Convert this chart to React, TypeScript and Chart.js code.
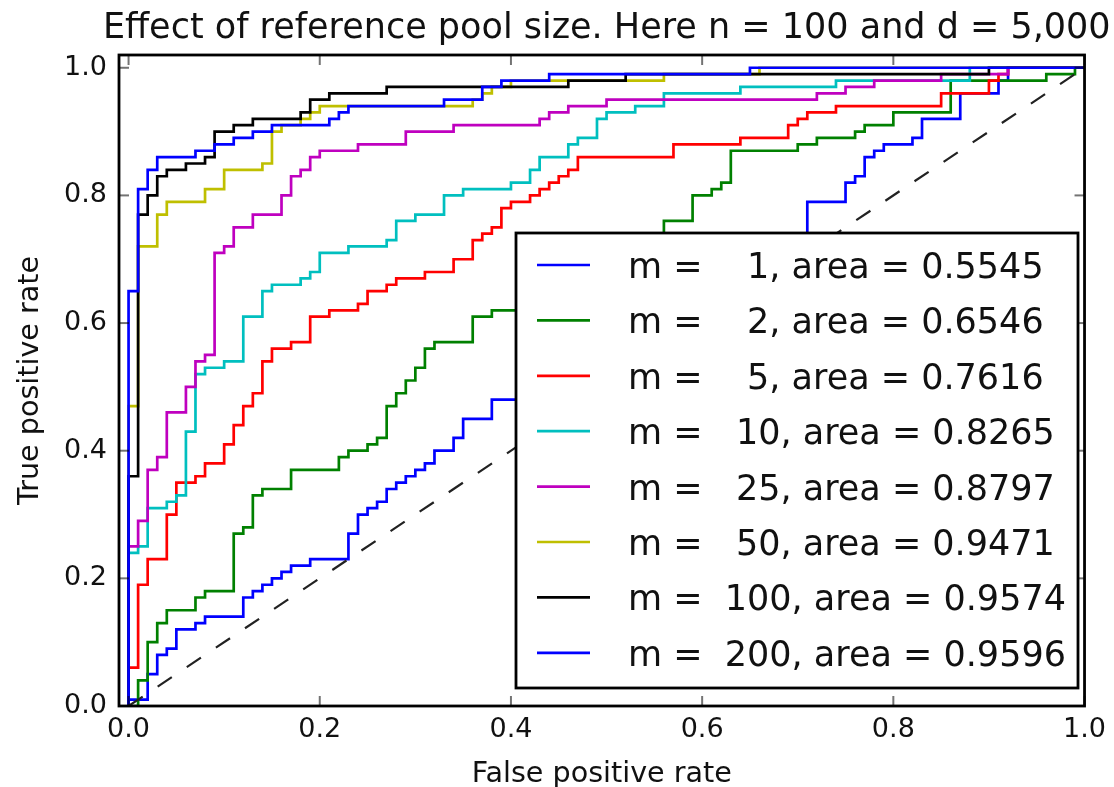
import React, { useEffect, useRef } from 'react';
import { Chart, registerables } from 'chart.js';

Chart.register(...registerables);

// ---- data ----
const titleText = 'Effect of reference pool size. Here n = 100 and d = 5,000';
const xLabelText = 'False positive rate';
const yLabelText = 'True positive rate';

const poolSizes = [1, 2, 5, 10, 25, 50, 100, 200];
const areas = [0.5545, 0.6546, 0.7616, 0.8265, 0.8797, 0.9471, 0.9574, 0.9596];
const seriesColors = ['#0000ff', '#008000', '#ff0000', '#00bfbf', '#bf00bf', '#bfbf00', '#000000', '#0000ff'];

const xTicks = [0, 0.2, 0.4, 0.6, 0.8, 1.0];
const yTicks = [0, 0.2, 0.4, 0.6, 0.8, 1.0];

const diagFpr = [0, 1];
const diagTpr = [0, 1];

const fprM1 = [0, 0, 0.02, 0.03, 0.04, 0.05, 0.07, 0.08, 0.12, 0.13, 0.14, 0.15, 0.16, 0.17, 0.19, 0.23, 0.24, 0.25, 0.26, 0.27, 0.28, 0.29, 0.30, 0.31, 0.32, 0.34, 0.35, 0.38, 0.42, 0.46, 0.50, 0.54, 0.58, 0.62, 0.66, 0.71, 0.75, 0.76, 0.77, 0.78, 0.79, 0.82, 0.83, 0.87, 0.91, 0.92, 1.0];
const tprM1 = [0, 0.01, 0.05, 0.08, 0.09, 0.12, 0.13, 0.14, 0.17, 0.18, 0.19, 0.20, 0.21, 0.22, 0.23, 0.27, 0.30, 0.31, 0.32, 0.34, 0.35, 0.36, 0.37, 0.38, 0.40, 0.42, 0.45, 0.48, 0.50, 0.53, 0.56, 0.59, 0.62, 0.65, 0.69, 0.79, 0.82, 0.83, 0.86, 0.87, 0.88, 0.89, 0.92, 0.96, 0.98, 1.0, 1.0];

const fprM2 = [0, 0.01, 0.02, 0.03, 0.04, 0.07, 0.08, 0.11, 0.12, 0.13, 0.14, 0.17, 0.22, 0.23, 0.25, 0.26, 0.27, 0.28, 0.29, 0.30, 0.31, 0.32, 0.36, 0.38, 0.41, 0.44, 0.47, 0.50, 0.52, 0.54, 0.56, 0.59, 0.61, 0.62, 0.63, 0.70, 0.72, 0.76, 0.77, 0.80, 0.86, 0.96, 0.99, 1.0];
const tprM2 = [0, 0.04, 0.10, 0.13, 0.15, 0.17, 0.18, 0.27, 0.28, 0.33, 0.34, 0.37, 0.39, 0.40, 0.41, 0.42, 0.47, 0.49, 0.51, 0.53, 0.56, 0.57, 0.61, 0.62, 0.63, 0.65, 0.66, 0.68, 0.70, 0.72, 0.76, 0.80, 0.81, 0.82, 0.87, 0.88, 0.89, 0.90, 0.91, 0.93, 0.98, 0.99, 1.0, 1.0];

const fprM5 = [0, 0, 0.01, 0.02, 0.04, 0.05, 0.07, 0.08, 0.10, 0.11, 0.12, 0.13, 0.14, 0.15, 0.17, 0.19, 0.21, 0.24, 0.25, 0.27, 0.28, 0.31, 0.34, 0.36, 0.37, 0.38, 0.39, 0.40, 0.42, 0.43, 0.44, 0.45, 0.46, 0.47, 0.57, 0.64, 0.69, 0.70, 0.71, 0.74, 0.85, 0.90, 0.91, 0.92, 1.0];
const tprM5 = [0, 0.06, 0.19, 0.23, 0.30, 0.35, 0.36, 0.38, 0.41, 0.44, 0.47, 0.49, 0.54, 0.56, 0.57, 0.61, 0.62, 0.63, 0.65, 0.66, 0.67, 0.68, 0.70, 0.73, 0.74, 0.75, 0.78, 0.79, 0.80, 0.81, 0.82, 0.83, 0.84, 0.86, 0.88, 0.89, 0.91, 0.92, 0.93, 0.94, 0.96, 0.98, 0.99, 1.0, 1.0];

const fprM10 = [0, 0, 0.01, 0.02, 0.04, 0.05, 0.06, 0.07, 0.08, 0.10, 0.12, 0.14, 0.15, 0.18, 0.19, 0.20, 0.23, 0.27, 0.28, 0.30, 0.33, 0.35, 0.40, 0.42, 0.43, 0.46, 0.47, 0.49, 0.50, 0.53, 0.56, 0.64, 0.74, 0.88, 1.0];
const tprM10 = [0, 0.24, 0.25, 0.31, 0.32, 0.33, 0.43, 0.52, 0.53, 0.54, 0.61, 0.65, 0.66, 0.67, 0.68, 0.71, 0.72, 0.73, 0.76, 0.77, 0.80, 0.81, 0.82, 0.84, 0.86, 0.88, 0.89, 0.92, 0.93, 0.94, 0.96, 0.97, 0.98, 1.0, 1.0];

const fprM25 = [0, 0, 0.01, 0.02, 0.03, 0.04, 0.06, 0.07, 0.08, 0.09, 0.10, 0.11, 0.13, 0.16, 0.17, 0.18, 0.19, 0.20, 0.24, 0.29, 0.34, 0.43, 0.44, 0.46, 0.50, 0.72, 0.75, 0.78, 0.85, 0.92, 1.0];
const tprM25 = [0, 0.25, 0.29, 0.37, 0.39, 0.46, 0.50, 0.54, 0.55, 0.71, 0.72, 0.75, 0.77, 0.80, 0.83, 0.84, 0.86, 0.87, 0.88, 0.90, 0.91, 0.92, 0.93, 0.94, 0.95, 0.96, 0.97, 0.98, 0.99, 1.0, 1.0];

const fprM50 = [0, 0, 0.01, 0.03, 0.04, 0.08, 0.10, 0.14, 0.15, 0.16, 0.18, 0.19, 0.20, 0.36, 0.37, 0.38, 0.40, 0.56, 0.66, 1.0];
const tprM50 = [0, 0.47, 0.72, 0.77, 0.79, 0.81, 0.84, 0.85, 0.90, 0.91, 0.92, 0.93, 0.94, 0.95, 0.96, 0.97, 0.98, 0.99, 1.0, 1.0];

const fprM100 = [0, 0, 0.01, 0.02, 0.03, 0.04, 0.06, 0.08, 0.09, 0.11, 0.13, 0.18, 0.19, 0.21, 0.27, 0.46, 0.52, 0.90, 1.0];
const tprM100 = [0, 0.36, 0.77, 0.80, 0.83, 0.84, 0.85, 0.86, 0.90, 0.91, 0.92, 0.93, 0.95, 0.96, 0.97, 0.98, 0.99, 1.0, 1.0];

const fprM200 = [0, 0, 0.01, 0.02, 0.03, 0.07, 0.09, 0.11, 0.13, 0.15, 0.21, 0.22, 0.23, 0.33, 0.37, 0.39, 0.44, 0.65, 1.0];
const tprM200 = [0, 0.65, 0.81, 0.84, 0.86, 0.87, 0.88, 0.89, 0.90, 0.91, 0.92, 0.93, 0.94, 0.95, 0.97, 0.98, 0.99, 1.0, 1.0];

const FONT = "'DejaVu Sans', sans-serif";

function legendLabel(m: number, a: number) {
  return `m = ${String(m).padStart(4, ' ')}, area = ${a.toFixed(4)}`;
}

const decorPlugin = {
  id: 'mplDecor',
  afterDatasetsDraw(chart: any) {
    const { ctx, chartArea: a, scales } = chart;
    const xs = scales.x;
    const ys = scales.y;
    ctx.save();
    const seg = (x1: number, y1: number, x2: number, y2: number) => {
      ctx.beginPath();
      ctx.moveTo(x1, y1);
      ctx.lineTo(x2, y2);
      ctx.stroke();
    };
    // inward ticks on all four sides
    ctx.strokeStyle = 'rgba(0,0,0,0.55)';
    ctx.lineWidth = 2;
    xTicks.forEach((v) => {
      const px = xs.getPixelForValue(v);
      seg(px, a.bottom, px, a.bottom - 10);
      seg(px, a.top, px, a.top + 10);
    });
    yTicks.forEach((v) => {
      const py = ys.getPixelForValue(v);
      seg(a.left, py, a.left + 10, py);
      seg(a.right, py, a.right - 10, py);
    });
    // frame
    ctx.strokeStyle = '#000';
    ctx.lineWidth = 2.8;
    ctx.strokeRect(a.left, a.top, a.right - a.left, a.bottom - a.top);

    // legend
    const bx = 516, by = 233, bw = 562, bh = 455;
    ctx.fillStyle = '#fff';
    ctx.fillRect(bx, by, bw, bh);
    ctx.strokeStyle = '#000';
    ctx.lineWidth = 2.8;
    ctx.strokeRect(bx, by, bw, bh);
    ctx.font = `35px ${FONT}`;
    ctx.textAlign = 'left';
    ctx.textBaseline = 'alphabetic';
    poolSizes.forEach((m, i) => {
      const rowY = 265 + i * 55.4;
      ctx.strokeStyle = seriesColors[i];
      ctx.lineWidth = 2.7;
      seg(537, rowY, 590, rowY);
      ctx.fillStyle = '#111';
      ctx.fillText(legendLabel(m, areas[i]), 628, rowY + 13);
    });
    ctx.restore();
  },
  afterDraw(chart: any) {
    const { ctx, chartArea: a } = chart;
    const cx = (a.left + a.right) / 2;
    const cy = (a.top + a.bottom) / 2;
    ctx.save();
    ctx.fillStyle = '#111';
    ctx.textAlign = 'center';
    ctx.textBaseline = 'alphabetic';
    ctx.font = `35px ${FONT}`;
    ctx.fillText(titleText, cx + 5, 38);
    ctx.font = `28.6px ${FONT}`;
    ctx.fillText(xLabelText, cx, 782);
    ctx.translate(38, cy);
    ctx.rotate(-Math.PI / 2);
    ctx.fillText(yLabelText, 0, 0);
    ctx.restore();
  },
};

export default function App() {
  const ref = useRef<HTMLCanvasElement>(null);

  useEffect(() => {
    const canvas = ref.current;
    if (!canvas) return;
    const fprs = [fprM1, fprM2, fprM5, fprM10, fprM25, fprM50, fprM100, fprM200];
    const tprs = [tprM1, tprM2, tprM5, tprM10, tprM25, tprM50, tprM100, tprM200];

    const curveSets = poolSizes.map((m, i) => ({
      label: legendLabel(m, areas[i]),
      data: fprs[i].map((x, k) => ({ x, y: tprs[i][k] })),
      borderColor: seriesColors[i],
      backgroundColor: seriesColors[i],
      borderWidth: 2.7,
      pointRadius: 0,
      fill: false,
      stepped: 'before' as const,
      order: 8 - i,
    }));

    const chart = new Chart(canvas, {
      type: 'line',
      data: {
        datasets: [
          {
            label: 'chance',
            data: diagFpr.map((x, k) => ({ x, y: diagTpr[k] })),
            borderColor: '#222',
            borderWidth: 2.2,
            borderDash: [17, 18],
            pointRadius: 0,
            fill: false,
            order: 0,
          },
          ...curveSets,
        ] as any,
      },
      plugins: [decorPlugin],
      options: {
        animation: false,
        responsive: false,
        events: [],
        layout: { padding: { top: 55, right: 19, bottom: 0, left: 0 } },
        plugins: {
          legend: { display: false },
          title: { display: false },
          tooltip: { enabled: false },
        },
        scales: {
          x: {
            type: 'linear',
            min: -0.01,
            max: 1.0,
            afterBuildTicks: (s: any) => {
              s.ticks = xTicks.map((v) => ({ value: v }));
            },
            afterFit: (s: any) => {
              s.height = 81;
            },
            grid: { display: false, drawTicks: false },
            border: { display: false },
            ticks: {
              autoSkip: false,
              maxRotation: 0,
              padding: 8,
              color: '#111',
              font: { family: FONT, size: 27 },
              callback: (v: any) => Number(v).toFixed(1),
            },
          },
          y: {
            type: 'linear',
            min: 0,
            max: 1.02,
            afterBuildTicks: (s: any) => {
              s.ticks = yTicks.map((v) => ({ value: v }));
            },
            afterFit: (s: any) => {
              s.width = 119;
            },
            grid: { display: false, drawTicks: false },
            border: { display: false },
            ticks: {
              autoSkip: false,
              padding: 12,
              color: '#111',
              font: { family: FONT, size: 27 },
              callback: (v: any) => Number(v).toFixed(1),
            },
          },
        },
      } as any,
    });

    return () => chart.destroy();
  }, []);

  return (
    <div style={{ position: 'absolute', left: 0, top: 0, width: 1114, height: 787, background: '#fff' }}>
      <canvas ref={ref} width={1114} height={787} style={{ display: 'block' }} />
    </div>
  );
}
